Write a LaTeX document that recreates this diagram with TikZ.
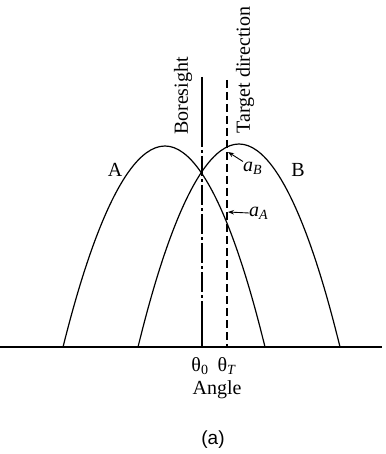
\documentclass[tikz,border=0pt]{standalone}
\usepackage{fontspec}
\setmainfont{Liberation Serif}
\setsansfont{Liberation Sans}
\usetikzlibrary{arrows.meta}
\begin{document}
\begin{tikzpicture}[x=1pt,y=-1pt,
  curve/.style={line width=1.2pt},
  lbl/.style={font=\fontsize{20}{24}\selectfont, inner sep=0pt},
  dashdot/.style={line width=1.2pt, dash pattern=on 20pt off 3pt on 3pt off 3pt},
  tgt/.style={line width=1.2pt, dash pattern=on 8pt off 4pt},
  ptr/.style={line width=0.9pt, -{Stealth[length=6pt,width=4.5pt]}}]
\useasboundingbox (0,0) rectangle (385,454);
% axis
\coordinate (axL) at (0,347);
\coordinate (axR) at (382,347);
\draw[line width=1.3pt] (axL) -- (axR);
% beams
\coordinate (Al) at (63,347); \coordinate (Ap) at (165,146); \coordinate (Ar) at (265,347);
\coordinate (Bl) at (138,347); \coordinate (Bp) at (239,144); \coordinate (Br) at (340,347);
\draw[curve] (Al) parabola bend (Ap) (Ar);
\draw[curve] (Bl) parabola bend (Bp) (Br);
% boresight
\coordinate (b0) at (202,77); \coordinate (b1) at (202,127);
\coordinate (b2) at (202,310); \coordinate (b3) at (202,347);
\draw[curve] (b0) -- (b1);
\draw[dashdot] (b1) -- (b2);
\draw[curve] (b2) -- (b3);
% target direction
\coordinate (t0) at (227,80); \coordinate (t1) at (227,347);
\draw[tgt] (t0) -- (t1);
% labels
\node[lbl, rotate=90] (bs) at (183,96) {Boresight};
\node[lbl, rotate=90] (td) at (245,70) {Target direction};
\node[lbl] (A) at (115,170) {A};
\node[lbl] (B) at (298,170) {B};
\node[lbl, anchor=west] (aB) at (243,168) {\textit{a}\textsubscript{\textit{B}}};
\node[lbl, anchor=west] (aA) at (249,213) {\textit{a}\textsubscript{\textit{A}}};
\coordinate (aBtip) at (228,152);
\coordinate (aAtip) at (228,212);
\draw[ptr] (aB.north west) -- (aBtip);
\draw[ptr] (aA.west) -- (aAtip);
\node[lbl] (th0) at (200,366) {θ\textsubscript{0}};
\node[lbl] (thT) at (227,366) {θ\textsubscript{\textit{T}}};
\node[lbl] (ang) at (217,390) {Angle};
\node[lbl, font=\fontsize{19}{22}\selectfont\sffamily] (cap) at (213,440) {(a)};
\end{tikzpicture}
\end{document}
